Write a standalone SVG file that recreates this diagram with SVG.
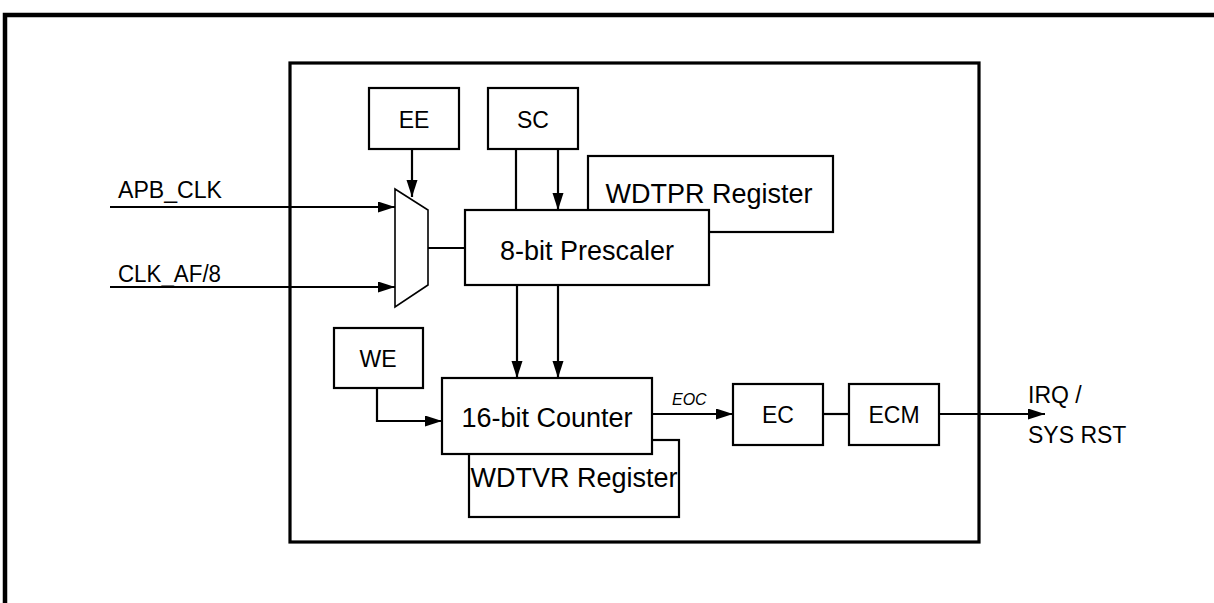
<svg xmlns="http://www.w3.org/2000/svg" width="1214" height="603" viewBox="0 0 1214 603">
<style>
text{font-family:"Liberation Sans",Arial,Helvetica,sans-serif;fill:#000}
.box{fill:#fff;stroke:#000;stroke-width:2.2}
.ln{fill:none;stroke:#000;stroke-width:2.2}
.big{font-size:27px}
.sm{font-size:23px}
.c{text-anchor:middle}
</style>
<defs>
<marker id="ah" markerUnits="userSpaceOnUse" markerWidth="18" markerHeight="12" refX="17" refY="5.5" orient="auto">
<path d="M0,0 L17,5.5 L0,11 z" fill="#000"/>
</marker>
</defs>
<rect width="1214" height="603" fill="#fff"/>
<path d="M5,603 V15 H1214" fill="none" stroke="#000" stroke-width="4.5"/>
<rect x="290" y="63" width="689" height="479" fill="none" stroke="#000" stroke-width="3.2"/>

<g id="connectors">
<path class="ln" d="M110,207 H395" marker-end="url(#ah)"/>
<path class="ln" d="M110,287 H395" marker-end="url(#ah)"/>
<path class="ln" d="M412,149 V197" marker-end="url(#ah)"/>
<path class="ln" d="M516,149 V210"/>
<path class="ln" d="M558,149 V210" marker-end="url(#ah)"/>
<path class="ln" d="M428,248 H465"/>
<path class="ln" d="M517,285 V378" marker-end="url(#ah)"/>
<path class="ln" d="M558,285 V378" marker-end="url(#ah)"/>
<path class="ln" d="M377,388 V421 H442" marker-end="url(#ah)"/>
<path class="ln" d="M652,414 H733" marker-end="url(#ah)"/>
<path class="ln" d="M823,414 H849"/>
<path class="ln" d="M939,414 H1045" marker-end="url(#ah)"/>
</g>

<g id="ee"><rect class="box" x="369" y="88" width="90" height="61"/><text class="sm c" x="414" y="128">EE</text></g>
<g id="sc"><rect class="box" x="488" y="88" width="90" height="61"/><text class="sm c" x="533" y="128">SC</text></g>
<g id="apb"><text class="sm" x="118" y="198" textLength="104" lengthAdjust="spacingAndGlyphs">APB_CLK</text></g>
<g id="clkaf"><text class="sm" x="118" y="282" textLength="103" lengthAdjust="spacingAndGlyphs">CLK_AF/8</text></g>
<g id="mux"><path d="M395,189 L428,210 L428,285 L395,307 Z" fill="#fff" stroke="#000" stroke-width="1.6"/></g>
<g id="wdtpr"><rect class="box" x="588" y="156" width="245" height="76"/><text class="big c" x="709" y="203">WDTPR Register</text></g>
<g id="prescaler"><rect class="box" x="465" y="210" width="244" height="75"/><text class="big c" x="587" y="260">8-bit Prescaler</text></g>
<g id="we"><rect class="box" x="334" y="328" width="89" height="60"/><text class="sm c" x="378" y="367">WE</text></g>
<g id="wdtvr"><rect class="box" x="469" y="440" width="210" height="77"/><text class="big c" x="574" y="487">WDTVR Register</text></g>
<g id="counter"><rect class="box" x="442" y="378" width="210" height="76"/><text class="big c" x="547" y="427">16-bit Counter</text></g>
<g id="eoc"><text x="672" y="405" font-size="16" font-style="italic">EOC</text></g>
<g id="ec"><rect class="box" x="733" y="384" width="90" height="61"/><text class="sm c" x="778" y="423">EC</text></g>
<g id="ecm"><rect class="box" x="849" y="384" width="90" height="61"/><text class="sm c" x="894" y="423">ECM</text></g>
<g id="out"><text class="sm" x="1028" y="403">IRQ /</text><text class="sm" x="1028" y="443">SYS RST</text></g>
</svg>
